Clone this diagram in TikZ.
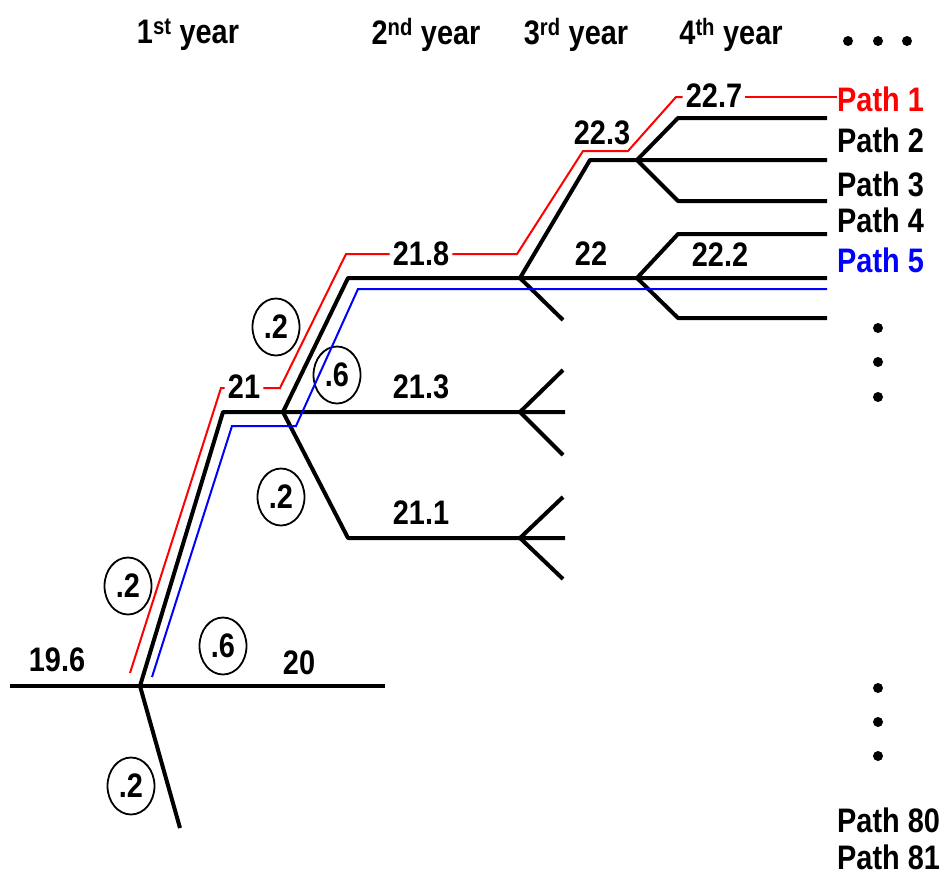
\documentclass[tikz,border=0pt]{standalone}
\usepackage{fontspec}
\newfontfamily\labfont{Liberation Sans}[FakeStretch=0.85]
\usetikzlibrary{shapes.geometric}
\begin{document}
\begin{tikzpicture}[x=1pt,y=-1pt,
  every node/.style={font=\labfont\bfseries\fontsize{34}{38}\selectfont, inner sep=0pt},
  tree/.style={line width=4pt, line join=round},
  redp/.style={red, line width=2pt},
  bluep/.style={blue, line width=2pt},
  prob/.style={ellipse, draw, line width=1.8pt, minimum width=47pt, minimum height=57pt, inner sep=0pt},
  val/.style={anchor=center, inner sep=3pt},
  pathlab/.style={anchor=west, inner sep=0pt},
  dotc/.style={circle, fill=black, minimum size=10pt, inner sep=0pt}]
\useasboundingbox (0,0) rectangle (952,878);
% headers
\node (h1) at (188,35) {1\textsuperscript{st} year};
\node (h2) at (426,35) {2\textsuperscript{nd} year};
\node (h3) at (576,35) {3\textsuperscript{rd} year};
\node (h4) at (731,35) {4\textsuperscript{th} year};
\node[dotc] (hd1) at (848,41) {};
\node[dotc] (hd2) at (878,41) {};
\node[dotc] (hd3) at (907,41) {};
% probability ellipses
\node[prob] (p1) at (128,586) {.2};
\node[prob] (p2) at (223,646) {.6};
\node[prob] (p3) at (131,786) {.2};
\node[prob] (p4) at (276,327) {.2};
\node[prob] (p5) at (337,375) {.6};
\node[prob] (p6) at (281,497) {.2};
% coordinates of the tree
\coordinate (a0) at (10,686);
\coordinate (j0) at (140,686);
\coordinate (a1) at (385,686);
\coordinate (a2) at (180,828);
\coordinate (c1) at (223,412);
\coordinate (j1) at (283,412);
\coordinate (j6) at (520,412);
\coordinate (e6) at (565,412);
\coordinate (c2) at (348,278);
\coordinate (j2) at (520,278);
\coordinate (j3) at (637,278);
\coordinate (e3) at (827,278);
\coordinate (c5) at (348,538);
\coordinate (j5) at (520,538);
\coordinate (e5) at (565,538);
\coordinate (c4) at (590,160);
\coordinate (j4) at (637,160);
\coordinate (e4) at (827,160);
\coordinate (e2d) at (563,320);
\coordinate (u4) at (678,118);
\coordinate (u4e) at (827,118);
\coordinate (d4) at (678,201);
\coordinate (d4e) at (827,201);
\coordinate (u3) at (678,234);
\coordinate (u3e) at (827,234);
\coordinate (d3) at (678,318);
\coordinate (d3e) at (827,318);
\coordinate (u6) at (563,370);
\coordinate (d6) at (563,455);
\coordinate (u5) at (563,497);
\coordinate (d5) at (563,579);
% black tree
\draw[tree] (a0) -- (j0) -- (a1);
\draw[tree] (j0) -- (a2);
\draw[tree] (j0) -- (c1) -- (j1) -- (j6) -- (e6);
\draw[tree] (j1) -- (c2) -- (j2) -- (j3) -- (e3);
\draw[tree] (j1) -- (c5) -- (j5) -- (e5);
\draw[tree] (j2) -- (c4) -- (j4) -- (e4);
\draw[tree] (j2) -- (e2d);
\draw[tree] (j4) -- (u4) -- (u4e);
\draw[tree] (j4) -- (d4) -- (d4e);
\draw[tree] (j3) -- (u3) -- (u3e);
\draw[tree] (j3) -- (d3) -- (d3e);
\draw[tree] (u6) -- (j6) -- (d6);
\draw[tree] (u5) -- (j5) -- (d5);
% value labels
\node[val] (l196) at (57,660) {19.6};
\node[val] (l20) at (299,663) {20};
\node[val] (l21) at (244,387) {21};
\node[val] (l218) at (421,254) {21.8};
\node[val] (l213) at (421,387) {21.3};
\node[val] (l211) at (421,513) {21.1};
\node[val] (l223) at (602,133) {22.3};
\node[val] (l22) at (591,254) {22};
\node[val] (l222) at (720,255) {22.2};
\node[val] (l227) at (714,96) {22.7};
% path labels
\node[pathlab, text=red] (path1) at (837,99) {Path 1};
\node[pathlab] (path2) at (837,140) {Path 2};
\node[pathlab] (path3) at (837,184) {Path 3};
\node[pathlab] (path4) at (837,220) {Path 4};
\node[pathlab, text=blue] (path5) at (837,260) {Path 5};
\node[pathlab] (path80) at (837,820) {Path 80};
\node[pathlab] (path81) at (837,857) {Path 81};
\node[dotc] (rd1) at (878,328) {};
\node[dotc] (rd2) at (878,362) {};
\node[dotc] (rd3) at (878,397) {};
\node[dotc] (rd4) at (878,688) {};
\node[dotc] (rd5) at (878,722) {};
\node[dotc] (rd6) at (878,756) {};
% red path (Path 1)
\coordinate (r0) at (130,673);
\coordinate (r1) at (221,388);
\coordinate (r2) at (280,388);
\coordinate (r3) at (346,254);
\coordinate (r4) at (517,254);
\coordinate (r5) at (583,151);
\coordinate (r6) at (628,151);
\coordinate (r7) at (676,97);
\draw[redp] (r0) -- (r1) -- (l21.west|-r1);
\draw[redp] (l21.east|-r1) -- (r2) -- (r3) -- (l218.west|-r3);
\draw[redp] (l218.east|-r3) -- (r4) -- (r5) -- (r6) -- (r7) -- (l227.west|-r7);
\draw[redp] (l227.east|-r7) -- (path1.west|-r7);
% blue path (Path 5)
\coordinate (b0) at (152,677);
\coordinate (b1) at (232,426);
\coordinate (b2) at (296,426);
\coordinate (b3) at (358,289);
\coordinate (b4) at (827,289);
\draw[bluep] (b0) -- (b1) -- (b2) -- (b3) -- (b4);
\end{tikzpicture}
\end{document}
